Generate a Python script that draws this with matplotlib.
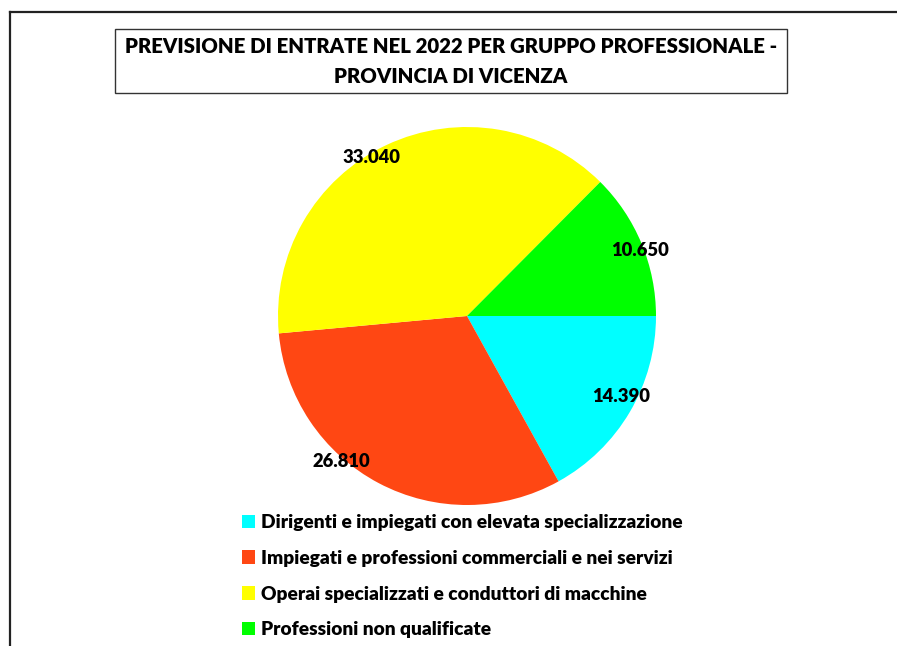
import matplotlib
matplotlib.use("Agg")
import matplotlib.pyplot as plt
from matplotlib.patches import Rectangle
from matplotlib.lines import Line2D
import numpy as np

# data
categories = [
    "Dirigenti e impiegati con elevata specializzazione",
    "Impiegati e professioni commerciali e nei servizi",
    "Operai specializzati e conduttori di macchine",
    "Professioni non qualificate",
]
values = [14390, 26810, 33040, 10650]
value_labels = ["14.390", "26.810", "33.040", "10.650"]
colors = ["#00FFFF", "#FF4713", "#FFFF00", "#00FF00"]

title = "PREVISIONE DI ENTRATE NEL 2022 PER GRUPPO PROFESSIONALE -\nPROVINCIA DI VICENZA"

# label placement tweaks (angle offset in degrees, radius as fraction of r)
label_shift = [3, -13, 6, -2]
label_radius = [0.92, 1.02, 0.98, 0.98]

plt.rcParams["font.family"] = ["Lato", "DejaVu Sans"]
WEIGHT = "heavy"

W, H = 897, 646
fig = plt.figure(figsize=(W / 100, H / 100), dpi=100)

# outer frame (only left and top edges are visible)
fig.add_artist(Line2D([9.5 / W, 9.5 / W], [0, 1 - 11.5 / H], transform=fig.transFigure,
                      color="#222222", lw=1.6))
fig.add_artist(Line2D([9.5 / W, 1], [1 - 11.5 / H, 1 - 11.5 / H], transform=fig.transFigure,
                      color="#222222", lw=1.6))

# title box
fig.add_artist(Rectangle((115 / W, 1 - 93 / H), 672 / W, 64 / H, transform=fig.transFigure,
                         facecolor="white", edgecolor="#333333", lw=1.0))
fig.text(451 / W, 1 - 61.5 / H, title, ha="center", va="center", fontsize=14.7,
         fontweight=WEIGHT, linespacing=1.7)

# pie
cx, cy, r = 467, 316, 189
ax = fig.add_axes([(cx - r) / W, (H - cy - r) / H, 2 * r / W, 2 * r / H])
wedges, _ = ax.pie(values, colors=colors, startangle=0, counterclock=False, radius=1,
                   wedgeprops=dict(linewidth=0))
ax.set_xlim(-1, 1)
ax.set_ylim(-1, 1)
ax.set_aspect("equal")
ax.axis("off")

for w, txt, da, rr in zip(wedges, value_labels, label_shift, label_radius):
    ang = np.deg2rad((w.theta1 + w.theta2) / 2 + da)
    ax.text(rr * np.cos(ang), rr * np.sin(ang), txt, ha="center", va="center",
            fontsize=13.2, fontweight=WEIGHT, clip_on=False)

leg = fig.legend(wedges, categories, loc="upper left", bbox_to_anchor=(242 / W, 1 - 514 / H),
                 frameon=False, prop=dict(size=13.8, weight=WEIGHT), handlelength=0.7,
                 handleheight=0.7, handletextpad=0.3, labelspacing=0.98, borderaxespad=0,
                 borderpad=0)

fig.savefig("out.png", dpi=100)
